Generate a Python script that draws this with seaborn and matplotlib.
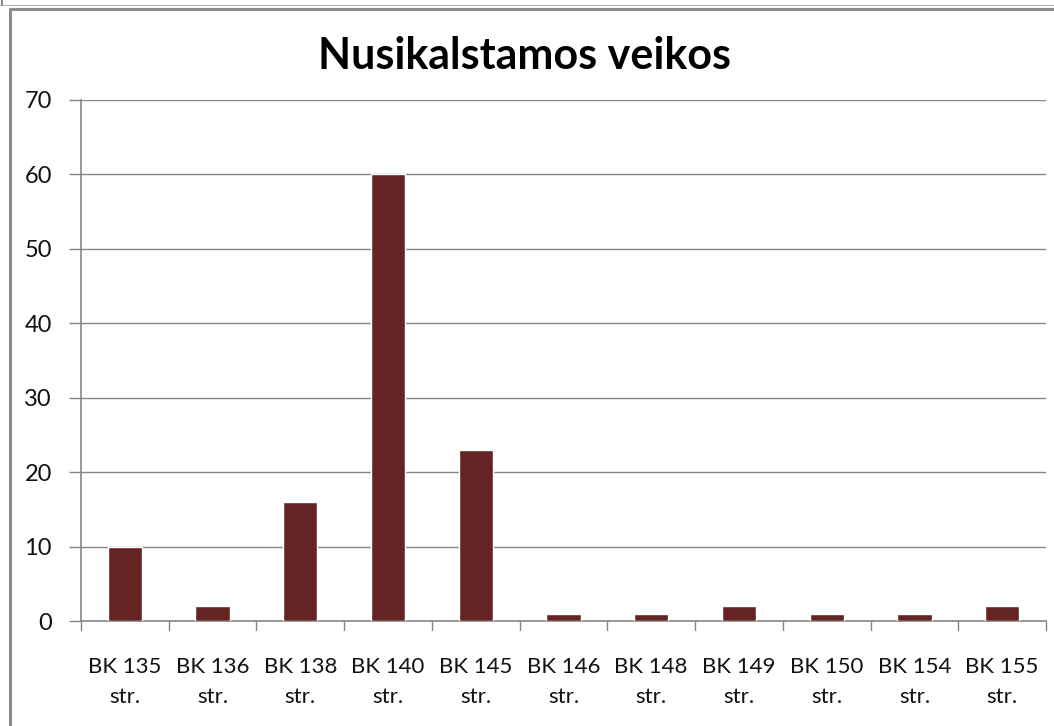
import matplotlib
matplotlib.use("Agg")
import matplotlib.pyplot as plt
import seaborn as sns
import pandas as pd
from matplotlib.lines import Line2D

categories = ["BK 135\nstr.", "BK 136\nstr.", "BK 138\nstr.", "BK 140\nstr.", "BK 145\nstr.",
              "BK 146\nstr.", "BK 148\nstr.", "BK 149\nstr.", "BK 150\nstr.", "BK 154\nstr.", "BK 155\nstr."]
values = [10, 2, 16, 60, 23, 1, 1, 2, 1, 1, 2]
yticks = [0, 10, 20, 30, 40, 50, 60, 70]
title = "Nusikalstamos veikos"

sns.set_theme(style="white")
plt.rcParams['font.family'] = ['Lato', 'DejaVu Sans']

df = pd.DataFrame({"cat": categories, "val": values})

fig = plt.figure(figsize=(10.54, 7.26), dpi=100)
ax = fig.add_axes([81/1054, 1-621/726, (1046-81)/1054, (621-100)/726])

sns.barplot(data=df, x="cat", y="val", color="#642424", width=0.39, ax=ax, zorder=3, saturation=1)

gray = "#868686"
ax.set_ylim(0, 70)
ax.set_xlim(-0.5, len(categories) - 0.5)
ax.set_yticks(yticks)
ax.set_yticklabels([str(t) for t in yticks], fontsize=17, color="#111111")
ax.yaxis.grid(True, color=gray, linewidth=1, zorder=0)
ax.set_axisbelow(True)
ax.set_xticks(range(len(categories)))
ax.set_xticklabels(categories, fontsize=16, color="#111111", linespacing=1.6)
ax.tick_params(axis="x", length=0, pad=26)
ax.tick_params(axis="y", length=9, width=1, color=gray, pad=12, left=True)
# boundary ticks
for b in [i - 0.5 for i in range(len(categories) + 1)]:
    ax.plot([b, b], [0, -1.2], color=gray, linewidth=1, clip_on=False, zorder=4)
ax.set_xlabel("")
ax.set_ylabel("")
for s in ["top", "right"]:
    ax.spines[s].set_visible(False)
for s in ["left", "bottom"]:
    ax.spines[s].set_color(gray)
    ax.spines[s].set_linewidth(1.2)

fig.text(524/1054, 1-56/726, title, ha="center", va="center", fontsize=31, fontweight="bold", color="#000000")

# outer frame lines
fig.add_artist(Line2D([10/1054, 10/1054], [0, 1-9/726], color="#8c8c8c", linewidth=2.2))
fig.add_artist(Line2D([10/1054, 1], [1-9/726, 1-9/726], color="#8c8c8c", linewidth=2.2))
fig.add_artist(Line2D([0, 1], [1-5/726, 1-5/726], color="#b0b0b0", linewidth=0.8))
fig.add_artist(Line2D([2/1054, 2/1054], [1-5/726, 1], color="#8c8c8c", linewidth=1.5))

fig.savefig("out.png", dpi=100)
